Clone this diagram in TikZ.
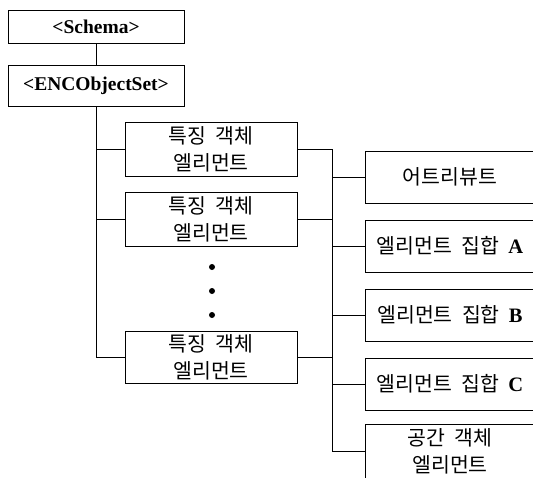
\documentclass[tikz,border=0pt]{standalone}
\usepackage{fontspec}
\setmainfont{Liberation Serif}
\newfontfamily\kr[WordSpace=2]{Noto Sans CJK KR}
\begin{document}
\begin{tikzpicture}[x=1pt,y=1pt,yscale=-1,xscale=1,line width=0.9pt,
  box/.style={draw, inner sep=0pt, align=center},
  tagbox/.style={box, minimum width=176pt, font=\fontsize{19.5}{21}\selectfont\bfseries},
  featbox/.style={box, minimum width=172pt, minimum height=54pt, font=\kr\fontsize{20.5}{27}\selectfont},
  partbox/.style={box, minimum width=170pt, minimum height=52pt, font=\kr\fontsize{20.5}{27}\selectfont}]
\useasboundingbox (0,0) rectangle (533,477);
\clip (0,0) rectangle (533,477);

%Shape: Rectangle
\node (schema) at (96,27) [tagbox, minimum height=33pt] {<Schema>};
\node (enc) at (96,85.5) [tagbox, minimum height=41pt] {<ENCObjectSet>};
%Shape: Rectangle
\node (f1) at (211,149.5) [featbox] {특징 객체\\엘리먼트};
\node (f2) at (211,219) [featbox] {특징 객체\\엘리먼트};
\node (f3) at (211,357) [featbox, minimum height=52pt] {특징 객체\\엘리먼트};
%Shape: Rectangle
\node (attr) at (450,177) [partbox] {어트리뷰트};
\node (setA) at (450,246) [partbox] {엘리먼트 집합 {\rmfamily\bfseries A}};
\node (setB) at (450,315) [partbox] {엘리먼트 집합 {\rmfamily\bfseries B}};
\node (setC) at (450,384) [partbox] {엘리먼트 집합 {\rmfamily\bfseries C}};
\node (spatial) at (450,451) [partbox, minimum height=54pt] {공간 객체\\엘리먼트};
\coordinate (busR) at (332,149.5);

%Straight Lines
\draw (schema) -- (enc);
\draw (enc.south) |- (f3.west);
\draw (enc.south |- f1.west) -- (f1.west);
\draw (enc.south |- f2.west) -- (f2.west);
%Straight Lines
\draw (f1.east) -- (busR |- f1.east) |- (spatial.west);
\draw (f2.east) -- (busR |- f2.east);
\draw (f3.east) -- (busR |- f3.east);
\foreach \n in {attr,setA,setB,setC}
  \draw (busR |- \n.west) -- (\n.west);

% Dots
\foreach \y in {267,291,315}
  \fill (212,\y) circle (3);
\end{tikzpicture}
\end{document}
